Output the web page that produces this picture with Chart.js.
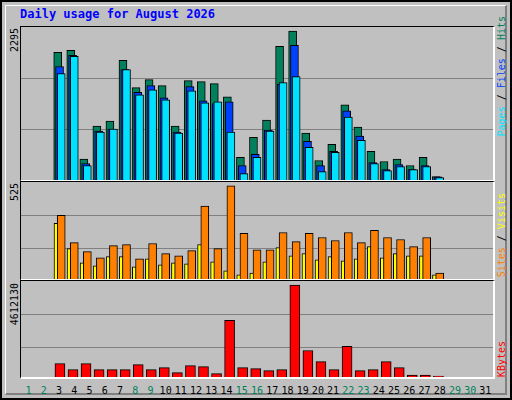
<!DOCTYPE html>
<html>
<head>
<meta charset="utf-8">
<script src="https://cdn.jsdelivr.net/npm/chart.js@4/dist/chart.umd.min.js"></script>
<style>
  body { margin: 0; background: #fff; }
  #frame { position: absolute; left: 0; top: 0; width: 508px; height: 396px; background: #c0c0c0;
           border: 2px solid #000; font-family: "DejaVu Sans Mono", monospace; }
  #bevel { position: absolute; left: 3px; top: 3px; right: 3px; bottom: 3px;
           border-top: 1px solid #fff; border-left: 1px solid #fff; border-right: 2px solid #808080; border-bottom: 2px solid #808080; }
  .panel { position: absolute; left: 18px; width: 472px; border-top: 1px solid #000; border-left: 1px solid #000;
           border-right: 2px solid #fff; border-bottom: 2px solid #fff; }
  .vt { position: absolute; writing-mode: vertical-rl; transform: rotate(180deg); font-size: 10px; white-space: nowrap; line-height: 11px; }
  #title { position: absolute; left: 18px; top: 5px; color: #0000ff; font-weight: bold; font-size: 12px; }
  .xl { position: absolute; top: 383px; width: 20px; margin-left: -10px; text-align: center; font-size: 10px; }
</style>
</head>
<body>
<div id="frame">
  <div id="bevel"></div>
  <div id="title">Daily usage for August 2026</div>
  <div class="panel" style="top:24px;height:153px"><canvas id="c1"></canvas></div>
  <div class="panel" style="top:179px;height:97px"><canvas id="c2"></canvas></div>
  <div class="panel" style="top:278px;height:96px"><canvas id="c3"></canvas></div>
  <div class="vt" style="left:7px;top:26px">2295</div>
  <div class="vt" style="left:7px;top:181px">525</div>
  <div class="vt" style="left:7px;top:281px">4612130</div>
  <div class="vt" style="left:494px;bottom:262px"><span style="color:#00e0ff">Pages</span> / <span style="color:#0040ff">Files</span> / <span style="color:#00805c">Hits</span></div>
  <div class="vt" style="left:494px;bottom:121px"><span style="color:#ff8000">Sites</span> / <span style="color:#ffff00">Visits</span></div>
  <div class="vt" style="left:494px;bottom:21px;color:#ff0000">KBytes</div>
  <div id="xlabels"></div>
</div>
<script>
const days = Array.from({length: 31}, (_, i) => i + 1);
const weekendDays = [1, 2, 8, 9, 15, 16, 22, 23, 29, 30];

const hits  = [1967,1998,322,830,908,1842,1422,1547,1453,830,1531,1515,1484,1282,348,659,924,2060,2295,721,301,550,1157,815,441,285,322,223,348,52,0];
const files = [1749,1920,254,753,784,1702,1349,1453,1266,737,1438,1220,1178,1204,223,394,768,1474,2076,597,223,441,1064,675,270,161,239,161,223,47,0];
const pages = [1640,1905,223,737,784,1702,1313,1391,1235,721,1375,1188,1204,737,99,348,753,1500,1593,503,130,425,970,612,254,145,208,161,208,36,0];

const sites  = [359,205,154,120,188,194,114,200,143,131,160,411,171,525,257,165,165,262,211,257,234,217,262,205,274,234,223,183,234,34,0];
const visits = [314,171,91,74,126,126,68,114,80,91,86,194,97,46,23,34,97,177,131,143,108,126,103,114,183,120,143,131,131,23,0];

const kbytes = [673000,370000,673000,370000,370000,370000,623000,370000,471000,219000,572000,522000,168000,2845000,471000,421000,320000,370000,4612130,1330000,774000,370000,1532000,320000,370000,774000,471000,101000,101000,50000,0];

// x labels under the bottom panel
const xl = document.getElementById('xlabels');
days.forEach(d => {
  const s = document.createElement('div');
  s.className = 'xl';
  s.style.left = (19 + (d - 0.5) / 31 * 472) + 'px';
  s.style.color = weekendDays.includes(d) ? '#00805c' : '#000';
  s.textContent = d;
  xl.appendChild(s);
});

function series(vals, off) {
  return vals.map((v, i) => ({x: i + 1 + off, y: v}));
}

function bar(label, vals, off, color, w, order) {
  return {
    label, data: series(vals, off), backgroundColor: color, order,
    borderColor: '#000', borderWidth: 1, barThickness: w, grouped: false
  };
}

function makeChart(id, datasets, max, grid) {
  new Chart(document.getElementById(id), {
    type: 'bar',
    data: {datasets},
    options: {
      responsive: true, maintainAspectRatio: false, animation: false,
      layout: {padding: 0},
      plugins: {legend: {display: false}, tooltip: {enabled: false}},
      scales: {
        x: {type: 'linear', min: 0.5, max: 31.5, display: false},
        y: {
          min: 0, max,
          afterBuildTicks: ax => { ax.ticks = grid.map(v => ({value: v})); },
          ticks: {display: false},
          border: {display: false},
          grid: {color: '#808080', lineWidth: 1, drawTicks: false}
        }
      }
    }
  });
}

makeChart('c1', [
  bar('Hits', hits, -0.27, '#00805c', 8, 3),
  bar('Files', files, -0.13, '#0040ff', 8, 2),
  bar('Pages', pages, 0, '#00e0ff', 8, 1)
], 2357, [775, 1566]);

makeChart('c2', [
  bar('Visits', visits, -0.4, '#ffff00', 4, 2),
  bar('Sites', sites, 0, '#ff8000', 8, 1)
], 547, [171, 360]);

makeChart('c3', [
  bar('KBytes', kbytes, -0.1, '#ff0000', 10, 1)
], 4814000, [1484000, 3149000]);
</script>
</body>
</html>
